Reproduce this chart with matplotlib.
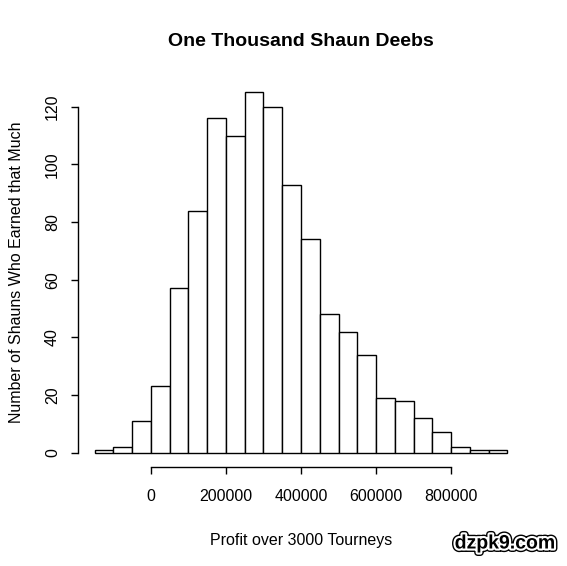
import matplotlib
matplotlib.use("Agg")
import matplotlib.pyplot as plt
import matplotlib.patheffects as pe
import numpy as np

plt.rcParams['font.family'] = ['Liberation Sans', 'DejaVu Sans']

bin_left = [-150000, -100000, -50000, 0, 50000, 100000, 150000, 200000, 250000, 300000,
            350000, 400000, 450000, 500000, 550000, 600000, 650000, 700000, 750000,
            800000, 850000, 900000]
counts = [1, 2, 11, 23, 57, 84, 116, 110, 125, 120, 93, 74, 48, 42, 34, 19, 18, 12, 7, 2, 1, 1]
bin_width = 50000
x_ticks = [0, 200000, 400000, 600000, 800000]
y_ticks = [0, 20, 40, 60, 80, 100, 120]

W, H = 567, 566
fig = plt.figure(figsize=(W/100, H/100), dpi=100)
ax = fig.add_axes([78/W, 1-467/H, (524-78)/W, (467-78)/H])

ax.bar(bin_left, counts, width=bin_width, align='edge', color='white',
       edgecolor='black', linewidth=1.0)

xmin, xmax = bin_left[0], bin_left[-1] + bin_width
pad = 0.04 * (xmax - xmin)
ax.set_xlim(xmin - pad, xmax + pad)
ymax = max(counts)
ax.set_ylim(-0.04 * ymax, ymax * 1.04)

for s in ['top', 'right']:
    ax.spines[s].set_visible(False)
ax.spines['bottom'].set_bounds(x_ticks[0], x_ticks[-1])
ax.spines['left'].set_bounds(y_ticks[0], y_ticks[-1])
ax.spines['bottom'].set_linewidth(1.0)
ax.spines['left'].set_linewidth(1.0)

ax.set_xticks(x_ticks)
ax.set_xticklabels([str(v) for v in x_ticks])
ax.set_yticks(y_ticks)
ax.set_yticklabels([str(v) for v in y_ticks], rotation=90, va='center')
ax.tick_params(direction='out', length=5, width=1.0, labelsize=11.5)
ax.tick_params(axis='x', pad=11)
ax.tick_params(axis='y', pad=8)

ax.set_xlabel('Profit over 3000 Tourneys', fontsize=11.5, labelpad=21)
ax.set_ylabel('Number of Shauns Who Earned that Much', fontsize=11.5, labelpad=15)
fig.text(301/W, 1-41/H, 'One Thousand Shaun Deebs', fontsize=14, fontweight='bold',
         ha='center', va='center')

fig.text(505/W, 1-544/H, 'dzpk9.com', fontsize=14, fontweight='bold', ha='center',
         va='center', color='black',
         path_effects=[pe.Stroke(linewidth=5, foreground='black'),
                       pe.Stroke(linewidth=3, foreground='white'), pe.Normal()])

fig.savefig('out.png', dpi=100, facecolor='white')
